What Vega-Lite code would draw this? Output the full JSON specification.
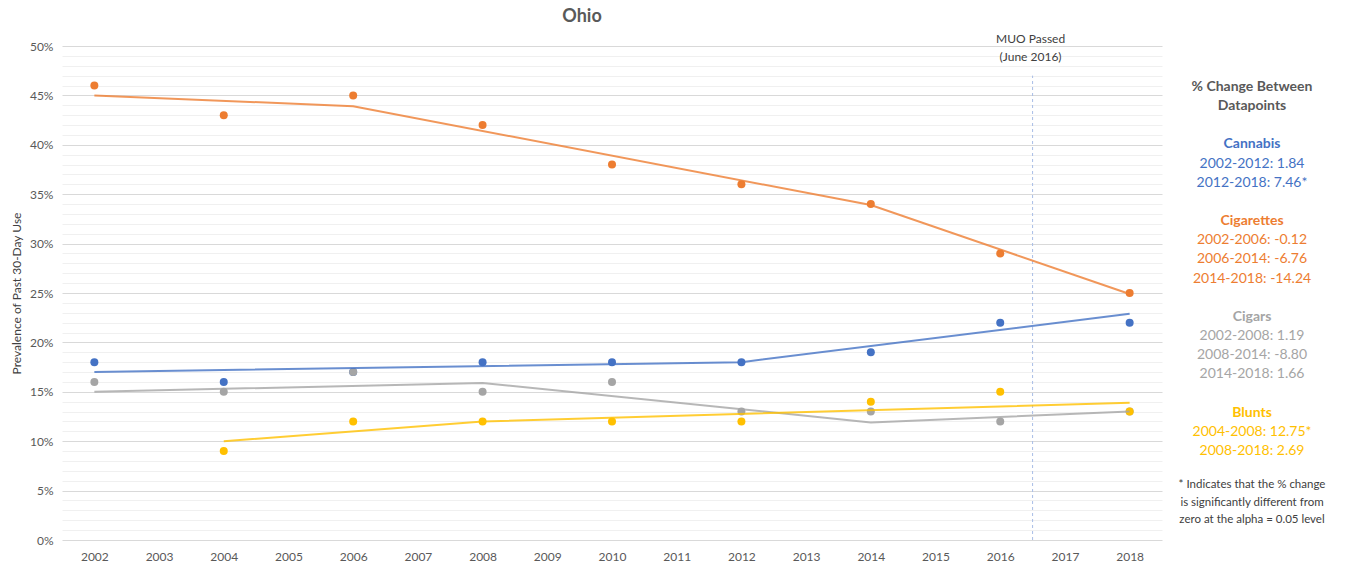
{
  "$schema": "https://vega.github.io/schema/vega-lite/v6.json",
  "padding": {"left": 10, "top": 8, "right": 0, "bottom": 0},
  "autosize": {"type": "pad"},
  "spacing": 0,
  "bounds": "flush",
  "config": {"view": {"stroke": null}, "font": "Lato"},
  "datasets": {
    "points": [
      {"substance": "Cannabis", "year": 2002, "value": 18},
      {"substance": "Cannabis", "year": 2004, "value": 16},
      {"substance": "Cannabis", "year": 2006, "value": 17},
      {"substance": "Cannabis", "year": 2008, "value": 18},
      {"substance": "Cannabis", "year": 2010, "value": 18},
      {"substance": "Cannabis", "year": 2012, "value": 18},
      {"substance": "Cannabis", "year": 2014, "value": 19},
      {"substance": "Cannabis", "year": 2016, "value": 22},
      {"substance": "Cannabis", "year": 2018, "value": 22},
      {"substance": "Cigarettes", "year": 2002, "value": 46},
      {"substance": "Cigarettes", "year": 2004, "value": 43},
      {"substance": "Cigarettes", "year": 2006, "value": 45},
      {"substance": "Cigarettes", "year": 2008, "value": 42},
      {"substance": "Cigarettes", "year": 2010, "value": 38},
      {"substance": "Cigarettes", "year": 2012, "value": 36},
      {"substance": "Cigarettes", "year": 2014, "value": 34},
      {"substance": "Cigarettes", "year": 2016, "value": 29},
      {"substance": "Cigarettes", "year": 2018, "value": 25},
      {"substance": "Cigars", "year": 2002, "value": 16},
      {"substance": "Cigars", "year": 2004, "value": 15},
      {"substance": "Cigars", "year": 2006, "value": 17},
      {"substance": "Cigars", "year": 2008, "value": 15},
      {"substance": "Cigars", "year": 2010, "value": 16},
      {"substance": "Cigars", "year": 2012, "value": 13},
      {"substance": "Cigars", "year": 2014, "value": 13},
      {"substance": "Cigars", "year": 2016, "value": 12},
      {"substance": "Cigars", "year": 2018, "value": 13},
      {"substance": "Blunts", "year": 2004, "value": 9},
      {"substance": "Blunts", "year": 2006, "value": 12},
      {"substance": "Blunts", "year": 2008, "value": 12},
      {"substance": "Blunts", "year": 2010, "value": 12},
      {"substance": "Blunts", "year": 2012, "value": 12},
      {"substance": "Blunts", "year": 2014, "value": 14},
      {"substance": "Blunts", "year": 2016, "value": 15},
      {"substance": "Blunts", "year": 2018, "value": 13}
    ],
    "trend": [
      {"substance": "Cannabis", "year": 2002, "value": 17},
      {"substance": "Cannabis", "year": 2012, "value": 18},
      {"substance": "Cannabis", "year": 2018, "value": 22.9},
      {"substance": "Cigarettes", "year": 2002, "value": 45},
      {"substance": "Cigarettes", "year": 2006, "value": 43.9},
      {"substance": "Cigarettes", "year": 2014, "value": 33.9},
      {"substance": "Cigarettes", "year": 2018, "value": 24.9},
      {"substance": "Cigars", "year": 2002, "value": 15},
      {"substance": "Cigars", "year": 2008, "value": 15.9},
      {"substance": "Cigars", "year": 2014, "value": 11.9},
      {"substance": "Cigars", "year": 2018, "value": 13},
      {"substance": "Blunts", "year": 2004, "value": 10},
      {"substance": "Blunts", "year": 2008, "value": 12},
      {"substance": "Blunts", "year": 2018, "value": 13.9}
    ],
    "muoLine": [
      {"year": 2016.5, "value": 0, "high": 47}
    ],
    "muoLabel": [
      {"year": 2016.5, "value": 50, "label": ["MUO Passed", "(June 2016)"]}
    ],
    "notes": [
      {"line": 0, "kind": "head", "group": "Header", "text": "% Change Between"},
      {"line": 1, "kind": "head", "group": "Header", "text": "Datapoints"},
      {"line": 3, "kind": "head", "group": "Cannabis", "text": "Cannabis"},
      {"line": 4, "kind": "item", "group": "Cannabis", "text": "2002-2012: 1.84"},
      {"line": 5, "kind": "item", "group": "Cannabis", "text": "2012-2018: 7.46*"},
      {"line": 7, "kind": "head", "group": "Cigarettes", "text": "Cigarettes"},
      {"line": 8, "kind": "item", "group": "Cigarettes", "text": "2002-2006: -0.12"},
      {"line": 9, "kind": "item", "group": "Cigarettes", "text": "2006-2014: -6.76"},
      {"line": 10, "kind": "item", "group": "Cigarettes", "text": "2014-2018: -14.24"},
      {"line": 12, "kind": "head", "group": "Cigars", "text": "Cigars"},
      {"line": 13, "kind": "item", "group": "Cigars", "text": "2002-2008: 1.19"},
      {"line": 14, "kind": "item", "group": "Cigars", "text": "2008-2014: -8.80"},
      {"line": 15, "kind": "item", "group": "Cigars", "text": "2014-2018: 1.66"},
      {"line": 17, "kind": "head", "group": "Blunts", "text": "Blunts"},
      {"line": 18, "kind": "item", "group": "Blunts", "text": "2004-2008: 12.75*"},
      {"line": 19, "kind": "item", "group": "Blunts", "text": "2008-2018: 2.69"},
      {"line": 20.8, "kind": "note", "group": "Note", "text": ["* Indicates that the % change", "is significantly different from", "zero at the alpha = 0.05 level"]}
    ]
  },
  "hconcat": [
    {
      "width": 1100,
      "height": 494,
      "title": {"text": "Ohio", "fontSize": 18, "fontWeight": "bold", "color": "#595959", "frame": "group", "offset": 7, "dx": -30},
      "encoding": {
        "x": {"field": "year", "type": "quantitative", "title": null,
          "scale": {"domain": [2001.5, 2018.5], "nice": false, "zero": false},
          "axis": {"values": [2002, 2003, 2004, 2005, 2006, 2007, 2008, 2009, 2010, 2011, 2012, 2013, 2014, 2015, 2016, 2017, 2018],
            "format": "d", "grid": false, "ticks": false, "domain": false, "labelPadding": 11, "labelFontSize": 12, "labelColor": "#595959", "labelOverlap": false}},
        "y": {"field": "value", "type": "quantitative", "title": "Prevalence of Past 30-Day Use",
          "scale": {"domain": [0, 50], "nice": false},
          "axis": {"values": [0,1,2,3,4,5,6,7,8,9,10,11,12,13,14,15,16,17,18,19,20,21,22,23,24,25,26,27,28,29,30,31,32,33,34,35,36,37,38,39,40,41,42,43,44,45,46,47,48,49,50],
            "labelExpr": "datum.value % 5 === 0 ? datum.value + '%' : ''",
            "labelOverlap": false, "labelFontSize": 12, "labelColor": "#595959", "labelPadding": 9,
            "ticks": false, "domain": false,
            "gridColor": {"condition": {"test": "datum.value % 5 === 0", "value": "#D9D9D9"}, "value": "#F0F0F0"},
            "titleFontSize": 12, "titleFontWeight": "normal", "titleColor": "#404040", "titlePadding": 6}}
      },
      "layer": [
        {
          "data": {"name": "muoLine"},
          "mark": {"type": "rule", "color": "#A9BDE6", "strokeDash": [3, 3], "strokeWidth": 1},
          "encoding": {"y2": {"field": "high"}}
        },
        {
          "data": {"name": "points"},
          "mark": {"type": "circle", "size": 64, "opacity": 1},
          "encoding": {
            "color": {"field": "substance", "type": "nominal", "legend": null,
              "scale": {"domain": ["Cannabis", "Cigarettes", "Cigars", "Blunts"], "range": ["#4472C4", "#ED7D31", "#A5A5A5", "#FFC000"]}}
          }
        },
        {
          "data": {"name": "trend"},
          "mark": {"type": "line", "strokeWidth": 2, "opacity": 0.8},
          "encoding": {
            "color": {"field": "substance", "type": "nominal", "legend": null},
            "order": {"field": "year"}
          }
        },
        {
          "data": {"name": "muoLabel"},
          "mark": {"type": "text", "fontSize": 12, "color": "#404040", "baseline": "middle", "lineHeight": 18, "dy": -7, "dx": -2},
          "encoding": {"text": {"field": "label"}}
        }
      ]
    },
    {
      "width": 180,
      "height": 494,
      "data": {"name": "notes"},
      "encoding": {
        "y": {"field": "line", "type": "quantitative", "axis": null,
          "scale": {"domain": [-2.14, 23.65], "reverse": true, "nice": false, "zero": false}},
        "text": {"field": "text"},
        "color": {"field": "group", "type": "nominal", "legend": null,
          "scale": {"domain": ["Header", "Cannabis", "Cigarettes", "Cigars", "Blunts", "Note"], "range": ["#595959", "#4472C4", "#ED7D31", "#A5A5A5", "#FFC000", "#404040"]}}
      },
      "layer": [
        {"transform": [{"filter": "datum.kind === 'head'"}], "mark": {"type": "text", "fontSize": 14, "fontWeight": "bold", "align": "center", "baseline": "middle"}},
        {"transform": [{"filter": "datum.kind === 'item'"}], "mark": {"type": "text", "fontSize": 14, "align": "center", "baseline": "middle"}},
        {"transform": [{"filter": "datum.kind === 'note'"}], "mark": {"type": "text", "fontSize": 11.5, "align": "center", "baseline": "middle", "lineHeight": 17.5}}
      ]
    }
  ],
  "resolve": {"scale": {"x": "independent", "y": "independent", "color": "independent"}}
}
